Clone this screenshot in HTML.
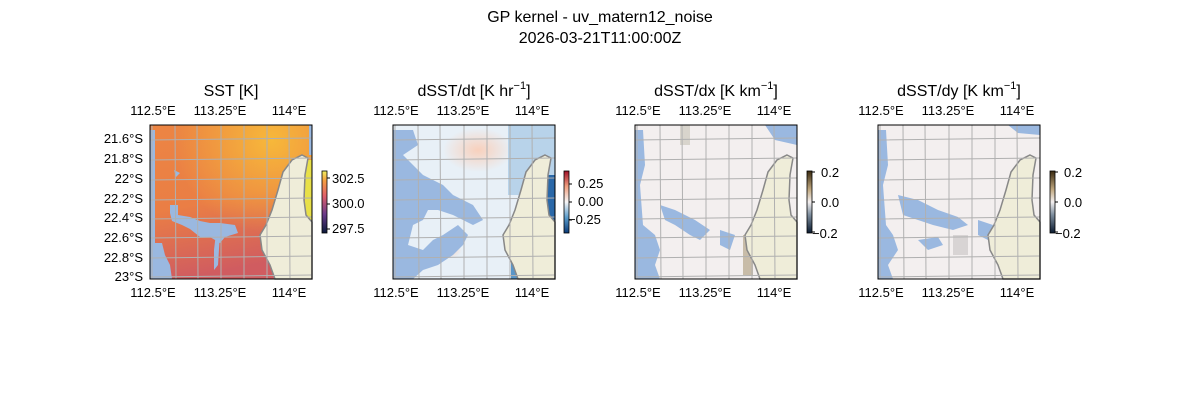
<!DOCTYPE html><html><head><style>body{margin:0;background:#fff}svg text{font-family:"Liberation Sans",sans-serif;fill:#000}</style></head><body>
<svg width="1200" height="400" xmlns="http://www.w3.org/2000/svg">
<defs>
<linearGradient id="sst" x1="0" y1="0" x2="0.2" y2="1"><stop offset="0" stop-color="#ec8543"/><stop offset="0.55" stop-color="#ea7e45"/><stop offset="1" stop-color="#d05c60"/></linearGradient>
<radialGradient id="sst2" cx="0.75" cy="0.1" r="0.6"><stop offset="0" stop-color="#f7b83a" stop-opacity="1"/><stop offset="1" stop-color="#f7b83a" stop-opacity="0"/></radialGradient>
<radialGradient id="warm" cx="0.5" cy="0.5" r="0.5"><stop offset="0" stop-color="#f8d0bc"/><stop offset="1" stop-color="#f8d0bc" stop-opacity="0"/></radialGradient>
<linearGradient id="cb1" x1="0" y1="1" x2="0" y2="0"><stop offset="0" stop-color="#0b1a3a"/><stop offset="0.3" stop-color="#6a3a8a"/><stop offset="0.6" stop-color="#e0606a"/><stop offset="0.85" stop-color="#f5a040"/><stop offset="1" stop-color="#f0f060"/></linearGradient>
<linearGradient id="cb2" x1="0" y1="1" x2="0" y2="0"><stop offset="0" stop-color="#0a3a78"/><stop offset="0.25" stop-color="#5a9ccb"/><stop offset="0.5" stop-color="#f7f7f7"/><stop offset="0.75" stop-color="#f0a080"/><stop offset="1" stop-color="#a01028"/></linearGradient>
<linearGradient id="cb3" x1="0" y1="1" x2="0" y2="0"><stop offset="0" stop-color="#0a1a30"/><stop offset="0.3" stop-color="#8090a0"/><stop offset="0.5" stop-color="#f4f0f0"/><stop offset="0.7" stop-color="#c0a880"/><stop offset="1" stop-color="#3a2a10"/></linearGradient>
<g id="land"><path d="M152,30 L158,33 L155,50 L154,75 L156,90 L162,97 L162,154 L125,154 L120,140 L112,125 L110,110 L116,100 L122,85 L128,65 L133,47 L142,35 Z" fill="#efedd9" stroke="#888" stroke-width="1.5"/></g>
<g id="grid" stroke="#b0b0b0" stroke-width="1" fill="none">
<path d="M25,0 L26,154 M47,0 L48,154 M71,0 L71,154 M94,0 L94,154 M117,0 L117,154 M139,0 L140,154 M2,0 L2,154"/>
<path d="M0,15 L162,13 M0,35 L162,33 M0,55 L162,53 M0,75 L162,73 M0,94 L162,92 M0,113 L162,111 M0,133 L162,131 M0,152 L162,150"/>
</g>
</defs>
<text x="600" y="22" font-size="16" text-anchor="middle">GP kernel - uv_matern12_noise</text>
<text x="600" y="43" font-size="16" text-anchor="middle">2026-03-21T11:00:00Z</text>

<g transform="translate(150,125)">
<rect width="162" height="154" fill="url(#sst)"/>
<rect width="162" height="154" fill="url(#sst2)"/>
<rect x="155" y="35" width="7" height="65" fill="#e8e048"/>
<rect x="159" y="0" width="3" height="30" fill="#9ab8e0"/>
<path d="M0,5 L5,5 L5,154 L0,154Z M24,45 L30,48 L26,52 Z M20,80 L28,80 L28,90 L40,92 L50,96 L60,98 L70,98 L85,100 L88,108 L75,112 L70,118 L60,112 L50,112 L40,104 L32,100 L22,96 L20,88Z M0,118 L12,118 L15,130 L20,140 L22,154 L0,154Z M66,108 L70,108 L68,140 L64,145 L64,125Z" fill="#9ab8e0"/>
<use href="#land"/><use href="#grid"/>
<rect width="162" height="154" fill="none" stroke="#000" stroke-width="1"/>
</g>
<g transform="translate(393,125)">
<rect width="162" height="154" fill="#e8f0f7"/>
<ellipse cx="85" cy="25" rx="35" ry="22" fill="url(#warm)"/>
<ellipse cx="55" cy="125" rx="14" ry="9" fill="url(#warm)"/>
<ellipse cx="50" cy="75" rx="14" ry="8" fill="url(#warm)"/>
<rect x="115" y="0" width="47" height="70" fill="#b8d3ea"/>
<rect x="150" y="50" width="12" height="55" fill="#2a68a8"/>
<rect x="118" y="120" width="16" height="34" fill="#5a96c8"/>
<path d="M0,5 L20,5 L25,20 L10,30 L20,40 L30,50 L50,60 L60,70 L80,80 L90,95 L80,100 L60,90 L45,85 L35,85 L30,95 L20,100 L15,120 L30,125 L40,115 L50,110 L65,100 L75,110 L70,120 L60,130 L45,140 L30,145 L20,154 L0,154Z" fill="#9ab8e0"/>
<use href="#land"/><use href="#grid"/>
<rect width="162" height="154" fill="none" stroke="#000"/>
</g>
<g transform="translate(635,125)">
<rect width="162" height="154" fill="#f3efef"/>
<rect x="45" y="0" width="10" height="20" fill="#d8d4cc"/>
<rect x="108" y="110" width="10" height="40" fill="#c8bca8"/>
<path d="M0,5 L8,5 L10,40 L5,60 L8,100 L20,110 L25,125 L20,140 L25,154 L0,154Z M25,80 L40,85 L60,95 L75,105 L65,115 L55,110 L40,100 L30,95Z M85,105 L100,110 L95,125 L85,120Z M130,0 L162,0 L162,20 L140,15Z" fill="#9ab8e0"/>
<use href="#land"/><use href="#grid"/>
<rect width="162" height="154" fill="none" stroke="#000"/>
</g>
<g transform="translate(878,125)">
<rect width="162" height="154" fill="#f3efef"/>
<rect x="75" y="110" width="15" height="20" fill="#d8d4d4"/>
<path d="M0,5 L8,5 L10,40 L5,60 L8,100 L15,110 L20,125 L10,140 L15,154 L0,154Z M20,70 L40,75 L60,85 L80,92 L90,100 L75,105 L55,100 L40,95 L25,90Z M40,115 L60,112 L65,120 L50,125Z M100,95 L115,100 L110,115 L100,110Z M130,0 L162,0 L162,10 L140,8Z" fill="#9ab8e0"/>
<use href="#land"/><use href="#grid"/>
<rect width="162" height="154" fill="none" stroke="#000"/>
</g>

<g font-size="16" text-anchor="middle">
<text x="231" y="96">SST [K]</text>
<text x="474" y="96">dSST/dt [K hr<tspan font-size="11" dy="-7">−1</tspan><tspan dy="7">]</tspan></text>
<text x="716" y="96">dSST/dx [K km<tspan font-size="11" dy="-7">−1</tspan><tspan dy="7">]</tspan></text>
<text x="959" y="96">dSST/dy [K km<tspan font-size="11" dy="-7">−1</tspan><tspan dy="7">]</tspan></text>
</g>
<g font-size="13" text-anchor="middle">
<text x="153" y="115">112.5°E</text><text x="220" y="115">113.25°E</text><text x="289" y="115">114°E</text>
<text x="153" y="297">112.5°E</text><text x="220" y="297">113.25°E</text><text x="289" y="297">114°E</text>
<text x="396" y="115">112.5°E</text><text x="463" y="115">113.25°E</text><text x="532" y="115">114°E</text>
<text x="396" y="297">112.5°E</text><text x="463" y="297">113.25°E</text><text x="532" y="297">114°E</text>
<text x="638" y="115">112.5°E</text><text x="705" y="115">113.25°E</text><text x="774" y="115">114°E</text>
<text x="638" y="297">112.5°E</text><text x="705" y="297">113.25°E</text><text x="774" y="297">114°E</text>
<text x="881" y="115">112.5°E</text><text x="948" y="115">113.25°E</text><text x="1017" y="115">114°E</text>
<text x="881" y="297">112.5°E</text><text x="948" y="297">113.25°E</text><text x="1017" y="297">114°E</text>
</g>
<g font-size="13" text-anchor="end">
<text x="143" y="143">21.6°S</text><text x="143" y="163">21.8°S</text><text x="143" y="183">22°S</text><text x="143" y="203">22.2°S</text><text x="143" y="222">22.4°S</text><text x="143" y="242">22.6°S</text><text x="143" y="262">22.8°S</text><text x="143" y="281">23°S</text>
</g>
<g font-size="13">
<rect x="322" y="171" width="5" height="62" fill="url(#cb1)" stroke="#000" stroke-width="0.8"/>
<path d="M327,178h3M327,204h3M327,229h3" stroke="#000"/>
<text x="332" y="183">302.5</text><text x="332" y="208">300.0</text><text x="332" y="233">297.5</text>
<rect x="564" y="171" width="5" height="62" fill="url(#cb2)" stroke="#000" stroke-width="0.8"/>
<path d="M569,184h3M569,202h3M569,220h3" stroke="#000"/>
<text x="578" y="188">0.25</text><text x="578" y="206">0.00</text><text x="568" y="224">−0.25</text>
<rect x="807" y="171" width="5" height="62" fill="url(#cb3)" stroke="#000" stroke-width="0.8"/>
<path d="M812,172h3M812,202h3M812,232h3" stroke="#000"/>
<text x="821" y="177">0.2</text><text x="821" y="207">0.0</text><text x="812" y="238">−0.2</text>
<rect x="1050" y="171" width="5" height="62" fill="url(#cb3)" stroke="#000" stroke-width="0.8"/>
<path d="M1055,172h3M1055,202h3M1055,232h3" stroke="#000"/>
<text x="1064" y="177">0.2</text><text x="1064" y="207">0.0</text><text x="1055" y="238">−0.2</text>
</g>
</svg></body></html>
